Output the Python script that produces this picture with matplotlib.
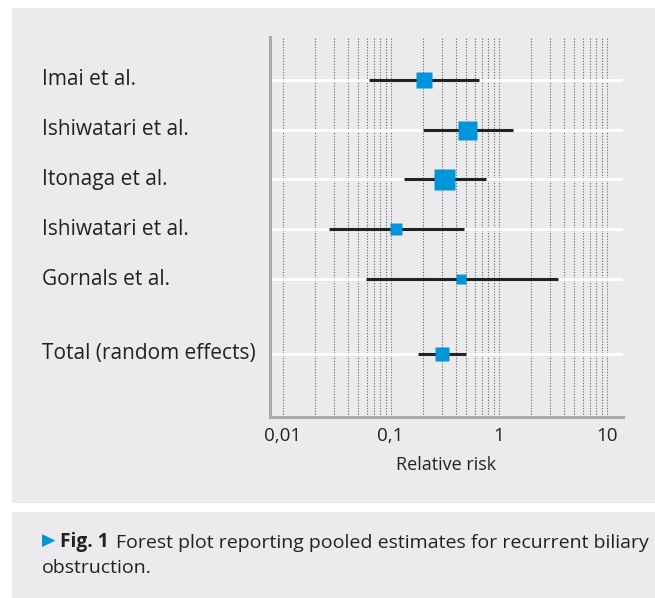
import matplotlib
matplotlib.use("Agg")
import matplotlib.pyplot as plt
from matplotlib.patches import Rectangle
from matplotlib import font_manager

studies = ["Imai et al.", "Ishiwatari et al.", "Itonaga et al.",
           "Ishiwatari et al.", "Gornals et al.", "Total (random effects)"]
rr = [0.203, 0.514, 0.313, 0.111, 0.45, 0.298]
ci_low = [0.063, 0.20, 0.133, 0.027, 0.059, 0.18]
ci_high = [0.652, 1.35, 0.767, 0.477, 3.53, 0.497]
weights = [16, 19, 21, 12, 9.5, 14]   # relative square size
rows = [0, 1, 2, 3, 4, 5.5]
xticks = [0.01, 0.1, 1, 10]
xticklabels = ["0,01", "0,1", "1", "10"]

names = {f.name for f in font_manager.fontManager.ttflist}
FONT = "Liberation Sans Narrow" if "Liberation Sans Narrow" in names else "Open Sans"
plt.rcParams["font.family"] = [FONT, "DejaVu Sans"]

W, H = 655, 598
fig = plt.figure(figsize=(W / 100, H / 100), dpi=100)
fig.patch.set_facecolor("white")
BG = "#ebebee"
fig.patches.append(Rectangle((12 / W, 1 - 503 / H), 1 - 12 / W, (503 - 8) / H,
                             transform=fig.transFigure, facecolor=BG, edgecolor="none", zorder=-5))
fig.patches.append(Rectangle((12 / W, 0), 1 - 12 / W, 1 - 512 / H,
                             transform=fig.transFigure, facecolor=BG, edgecolor="none", zorder=-5))

ax = fig.add_axes([270 / W, 1 - 417 / H, (623 - 270) / W, (417 - 37) / H])
ax.set_facecolor("none")
ax.set_xscale("log")
ax.set_xlim(0.00762, 14.2)
ax.set_ylim(6.77, -0.86)

# dotted grid lines at 1..9 x decades
for dec in [0.01, 0.1, 1]:
    for m in range(1, 10):
        ax.axvline(dec * m, color="#666666", lw=0.8, ls=(0, (1, 1.5)), zorder=1)
ax.axvline(10, color="#666666", lw=0.8, ls=(0, (1, 1.5)), zorder=1)

for y in rows:
    ax.axhline(y, xmin=0.005, color="white", lw=2.2, zorder=2)

for y, e, lo, hi, w in zip(rows, rr, ci_low, ci_high, weights):
    ax.plot([lo, hi], [y, y], color="#222222", lw=2.2, solid_capstyle="butt", zorder=3)
    ax.plot([e], [y], marker="s", ms=w * 0.72, color="#0095d8", mec="none", zorder=4)

ax.set_yticks([])
ax.set_xticks(xticks)
ax.set_xticklabels(xticklabels, fontsize=13.5, color="#222222")
ax.xaxis.set_minor_locator(matplotlib.ticker.NullLocator())
ax.tick_params(axis="x", length=0, pad=7)
for s in ["top", "right"]:
    ax.spines[s].set_visible(False)
for s in ["left", "bottom"]:
    ax.spines[s].set_color("#aaaaaa")
    ax.spines[s].set_linewidth(2.2)
ax.set_xlabel("Relative risk", fontsize=13, color="#222222", labelpad=8)

for y, name in zip(rows, studies):
    ax.text(-0.645, y, name, transform=ax.get_yaxis_transform(), ha="left", va="center",
            fontsize=15, color="#222222")

# caption
fig.text(42 / W, 1 - 541 / H, "\u25B6", fontsize=12.5, color="#0095d8",
         va="center", ha="left", family=["DejaVu Sans"])
t2 = fig.text(60 / W, 1 - 547 / H, "Fig. 1", fontsize=13.8, fontweight="bold",
              color="#222222", va="baseline", ha="left")
ax.annotate("Forest plot reporting pooled estimates for recurrent biliary", xy=(1, 0),
            xycoords=t2, xytext=(5.5, 0), textcoords="offset points",
            fontsize=14, color="#222222", va="bottom", annotation_clip=False)
fig.text(42 / W, 1 - 573 / H, "obstruction.", fontsize=14, color="#222222", va="baseline", ha="left")

fig.savefig("out.png", dpi=100, facecolor="white")
